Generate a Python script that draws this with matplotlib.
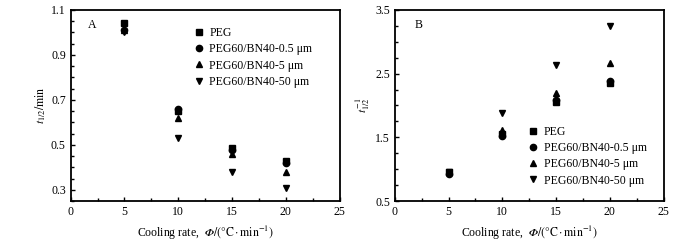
import matplotlib.pyplot as plt
from matplotlib.ticker import MultipleLocator

plt.rcParams['font.family'] = ['Liberation Serif', 'DejaVu Serif']
plt.rcParams['mathtext.fontset'] = 'stix'
plt.rcParams['font.size'] = 8.5

# cooling rates
rate = [5, 10, 15, 20]
labels = ['PEG', 'PEG60/BN40-0.5 μm', 'PEG60/BN40-5 μm', 'PEG60/BN40-50 μm']
markers = ['s', 'o', '^', 'v']

# half crystallization time t1/2 (min)
t_peg = [1.04, 0.65, 0.485, 0.43]
t_bn05 = [1.01, 0.66, 0.475, 0.42]
t_bn5 = [1.01, 0.62, 0.46, 0.38]
t_bn50 = [1.00, 0.53, 0.38, 0.31]

# reciprocal t1/2
r_peg = [0.95, 1.55, 2.05, 2.35]
r_bn05 = [0.93, 1.52, 2.08, 2.39]
r_bn5 = [0.95, 1.62, 2.20, 2.66]
r_bn50 = [0.95, 1.88, 2.63, 3.25]

fig = plt.figure(figsize=(7, 2.4), dpi=100)
axA = fig.add_axes([0.101, 0.1625, 0.384, 0.796])
axB = fig.add_axes([0.564, 0.1625, 0.384, 0.796])

for ys, m, lab in zip([t_peg, t_bn05, t_bn5, t_bn50], markers, labels):
    axA.plot(rate, ys, linestyle='none', marker=m, color='black', markersize=4.5, label=lab)
for ys, m, lab in zip([r_peg, r_bn05, r_bn5, r_bn50], markers, labels):
    axB.plot(rate, ys, linestyle='none', marker=m, color='black', markersize=4.5, label=lab)

xlabel = 'Cooling rate,  $\U0001D6F7\\mathrm{/(°C \\cdot min^{-1})}$'

axA.set_xlim(0, 25)
axA.set_ylim(0.25, 1.1)
axA.set_yticks([0.3, 0.5, 0.7, 0.9, 1.1])
axA.yaxis.set_minor_locator(MultipleLocator(0.05))
axA.set_ylabel(r'$t_{1/2}\mathrm{/min}$', labelpad=2)
axA.text(0.08, 0.92, 'A', transform=axA.transAxes, ha='center', va='center')
axA.legend(loc='upper left', bbox_to_anchor=(0.41, 0.965), frameon=False,
           handletextpad=0.3, labelspacing=0.35, handlelength=1.2)

axB.set_xlim(0, 25)
axB.set_ylim(0.5, 3.5)
axB.set_yticks([0.5, 1.5, 2.5, 3.5])
axB.yaxis.set_minor_locator(MultipleLocator(0.25))
axB.set_ylabel(r'$t_{1/2}^{-1}$', labelpad=2)
axB.text(0.09, 0.92, 'B', transform=axB.transAxes, ha='center', va='center')
axB.legend(loc='lower left', bbox_to_anchor=(0.45, 0.02), frameon=False,
           handletextpad=0.3, labelspacing=0.35, handlelength=1.2)

for ax in (axA, axB):
    ax.set_xticks([0, 5, 10, 15, 20, 25])
    ax.xaxis.set_minor_locator(MultipleLocator(2.5))
    ax.set_xlabel(xlabel)
    ax.tick_params(direction='in', which='major', length=3, width=1)
    ax.tick_params(direction='in', which='minor', length=2, width=1)
    for s in ax.spines.values():
        s.set_linewidth(1.3)

fig.savefig('out.png', dpi=100)
